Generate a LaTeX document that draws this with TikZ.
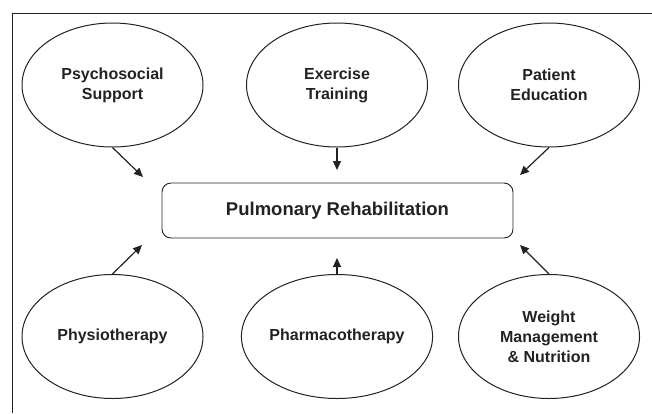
\documentclass[tikz,border=0pt]{standalone}
\usepackage{fontspec}
\setmainfont{Liberation Sans}
\usetikzlibrary{shapes.geometric,arrows.meta}
\definecolor{ink}{HTML}{222222}
\begin{document}
\begin{tikzpicture}[x=1pt,y=-1pt,
  bubble/.style={draw=ink,line width=1pt,ellipse,minimum width=181pt,minimum height=124pt,inner sep=0pt,align=center,font=\fontsize{16}{20}\selectfont\bfseries,text=ink},
  hub/.style={draw=ink,line width=0.9pt,rounded corners=9pt,minimum width=351pt,minimum height=55pt,inner sep=0pt,font=\fontsize{18.5}{22}\selectfont\bfseries,text=ink},
  link/.style={draw=ink,line width=1.2pt,-{Triangle[length=9pt,width=8pt]}}]
\useasboundingbox (0,0) rectangle (652,413);
\draw[line width=0.9pt,ink] (12,413) -- (12,13) -- (652,13);
\node[hub] (pr) at (337.5,210.5) {Pulmonary Rehabilitation};
\node[bubble] (ps) at (112.5,85) {Psychosocial\\Support};
\node[bubble] (ex) at (337,85) {Exercise\\Training};
\node[bubble] (pe) at (549,85) {Patient\\Education};
\node[bubble] (ph) at (112.5,336.5) {Physiotherapy};
\node[bubble] (pc) at (337,336.5) {Pharmacotherapy};
\node[bubble] (wm) at (549,336.5) {Weight\\Management\\\& Nutrition};
\coordinate (tps) at (143,177);
\coordinate (tex) at (337,170);
\coordinate (tpe) at (520,175);
\coordinate (tph) at (142,245);
\coordinate (tpc) at (337,258);
\coordinate (twm) at (520,245);
\draw[link] (ps.south) ++(0,0) -- (tps);
\draw[link] (ex.south) -- (tex);
\draw[link] (pe.south) -- (tpe);
\draw[link] (ph.north) -- (tph);
\draw[link] (pc.north) -- (tpc);
\draw[link] (wm.north) -- (twm);
\end{tikzpicture}
\end{document}
